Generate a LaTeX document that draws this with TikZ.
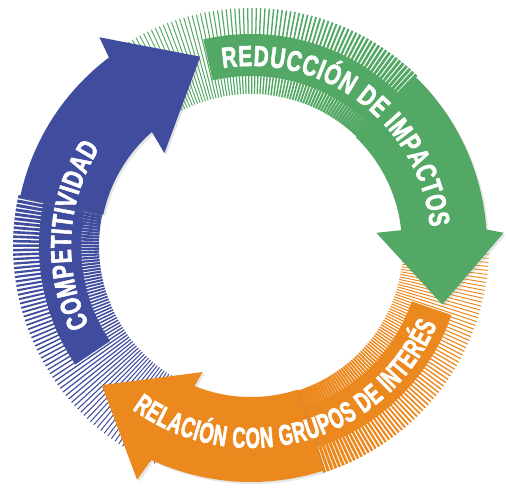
\documentclass[tikz,border=0pt]{standalone}
\usepackage{fontspec}
\newfontfamily\cyclefont[FakeStretch=0.72,FakeBold=2]{Liberation Sans}
\newfontfamily\cyclefontnarrow[FakeStretch=0.63,FakeBold=2]{Liberation Sans}
\usetikzlibrary{decorations.text,shadows}
\definecolor{cycblue}{RGB}{64,76,157}
\definecolor{cycgreen}{RGB}{82,168,100}
\definecolor{cycorange}{RGB}{236,137,30}
\newcommand\lbl{\cyclefont\bfseries\fontsize{29}{29}\selectfont\color{white}}
\newcommand\lblnarrow{\cyclefontnarrow\bfseries\fontsize{29}{29}\selectfont\color{white}}
\newcommand\hatchband[3]{%
  \foreach \i in {0,...,72}{%
    \pgfmathsetmacro\ang{#2+(#3-#2)*\i/72}%
    \pgfmathsetmacro\wid{0.9+2.2*(1-\i/72)^2}%
    \draw[#1, line width=\wid pt] (\ang:152pt) -- (\ang:238pt);}}
\tikzset{
  arrowpart/.style={fill=#1, drop shadow={shadow xshift=2pt, shadow yshift=-2pt, opacity=0.2}},
  strippart/.style={fill=#1},
  cyclelabel/.style={decorate, decoration={text along path, text align={fit to path}, text={#1}}}
}
\begin{document}
\begin{tikzpicture}[x=1pt, y=1pt]
\useasboundingbox (-251,-243) rectangle (255,246);
\hatchband{cycblue}{168}{246}
\hatchband{cycgreen}{46}{121}
\hatchband{cycorange}{288}{358}
\fill[strippart=cycblue] (165:170pt) arc[start angle=165, end angle=214, radius=170pt] -- (214:212pt) arc[start angle=214, end angle=165, radius=212pt] -- cycle;
\fill[strippart=cycgreen] (103:170pt) arc[start angle=103, end angle=43, radius=170pt] -- (43:212pt) arc[start angle=43, end angle=103, radius=212pt] -- cycle;
\fill[strippart=cycorange] (341:170pt) arc[start angle=341, end angle=285, radius=170pt] -- (285:212pt) arc[start angle=285, end angle=341, radius=212pt] -- cycle;
\fill[arrowpart=cycorange] (288:236pt) arc[start angle=288, end angle=245, radius=236pt] -- (244:260pt) -- (223:204pt) -- (249:135pt) -- (248:151pt) arc[start angle=248, end angle=288, radius=151pt] -- cycle;
\fill[arrowpart=cycgreen] (46:236pt) arc[start angle=46, end angle=4, radius=236pt] -- (3:253pt) -- (-17:200pt) -- (6:126pt) -- (6:151pt) arc[start angle=6, end angle=46, radius=151pt] -- cycle;
\fill[arrowpart=cycblue] (168:236pt) arc[start angle=168, end angle=127, radius=236pt] -- (126:258pt) -- (105:196pt) -- (133:127pt) -- (131:151pt) arc[start angle=131, end angle=168, radius=151pt] -- cycle;
\path[cyclelabel={|\lbl|COMPETITIVIDAD}] (206:180pt) arc[start angle=206, end angle=147, radius=180pt];
\path[cyclelabel={|\lbl|REDUCCIÓN DE IMPACTOS}] (99:180pt) arc[start angle=99, end angle=6, radius=180pt];
\path[cyclelabel={|\lblnarrow|RELACIÓN CON GRUPOS DE INTERÉS}] (234:202pt) arc[start angle=234, end angle=337, radius=202pt];
\end{tikzpicture}
\end{document}
